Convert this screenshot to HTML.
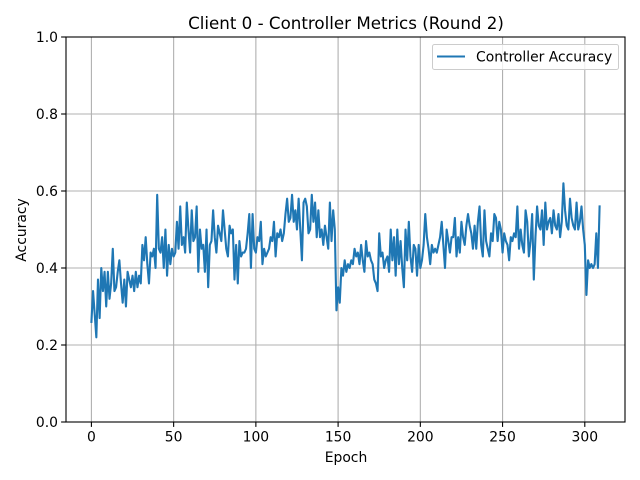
<!DOCTYPE html>
<html><head><meta charset="utf-8"><style>
body{margin:0;background:#fff;}
svg{display:block;font-family:"DejaVu Sans","Liberation Sans",sans-serif;}
</style></head><body>
<svg id="chart" width="640" height="480">
<rect width="640" height="480" fill="#fff"/>
<g id="grid"></g>
<g id="axes"></g>
<text x="346" y="29" font-size="16.7" text-anchor="middle">Client 0 - Controller Metrics (Round 2)</text>
<text x="346" y="462" font-size="13.9" text-anchor="middle">Epoch</text>
<text transform="translate(26,230) rotate(-90)" font-size="13.9" text-anchor="middle">Accuracy</text>
<g>
<rect x="432.5" y="44.5" width="186" height="25" rx="2" fill="#fff" fill-opacity="0.8" stroke="#ccc"/>
<line x1="437" y1="56.5" x2="465" y2="56.5" stroke="#1f77b4" stroke-width="2.1"/>
<text x="476" y="61.5" font-size="13.9">Controller Accuracy</text>
</g>
</svg>
<script>
const yTicks=[0,0.2,0.4,0.6,0.8,1.0];
const yTickLabels=["0.0","0.2","0.4","0.6","0.8","1.0"];
const xTicks=[0,50,100,150,200,250,300];
const xTickLabels=["0","50","100","150","200","250","300"];
const accuracy=[
0.26,0.34,0.28,0.22,0.37,0.27,0.40,0.34,0.39,0.30,
0.39,0.32,0.36,0.45,0.34,0.35,0.39,0.42,0.36,0.31,
0.37,0.30,0.39,0.37,0.35,0.38,0.34,0.39,0.35,0.38,
0.36,0.46,0.42,0.48,0.41,0.36,0.44,0.43,0.45,0.40,
0.59,0.45,0.44,0.48,0.40,0.50,0.38,0.46,0.41,0.45,
0.43,0.44,0.52,0.45,0.56,0.46,0.48,0.44,0.57,0.50,
0.44,0.55,0.47,0.48,0.56,0.39,0.50,0.45,0.46,0.39,
0.50,0.35,0.46,0.47,0.55,0.48,0.44,0.51,0.49,0.47,
0.55,0.50,0.45,0.43,0.51,0.49,0.50,0.37,0.46,0.36,
0.47,0.43,0.44,0.44,0.45,0.49,0.54,0.40,0.54,0.45,
0.44,0.48,0.47,0.52,0.41,0.45,0.43,0.44,0.45,0.48,
0.47,0.52,0.43,0.49,0.48,0.50,0.47,0.49,0.54,0.58,
0.52,0.53,0.59,0.52,0.55,0.50,0.58,0.50,0.42,0.57,
0.58,0.56,0.49,0.50,0.59,0.52,0.57,0.48,0.55,0.48,
0.50,0.46,0.51,0.48,0.45,0.57,0.47,0.55,0.50,0.29,
0.35,0.31,0.40,0.38,0.42,0.39,0.41,0.40,0.42,0.41,
0.45,0.43,0.44,0.41,0.46,0.42,0.39,0.47,0.43,0.44,
0.42,0.41,0.37,0.36,0.34,0.49,0.43,0.44,0.40,0.42,
0.43,0.39,0.50,0.42,0.48,0.38,0.50,0.41,0.47,0.40,
0.35,0.50,0.42,0.52,0.43,0.39,0.46,0.45,0.38,0.46,
0.40,0.42,0.46,0.54,0.48,0.45,0.41,0.46,0.44,0.45,
0.44,0.46,0.48,0.52,0.46,0.40,0.50,0.47,0.44,0.48,
0.48,0.53,0.43,0.48,0.44,0.52,0.48,0.46,0.51,0.54,
0.51,0.49,0.45,0.51,0.45,0.52,0.56,0.46,0.43,0.55,
0.47,0.45,0.43,0.49,0.47,0.54,0.53,0.47,0.52,0.50,
0.44,0.49,0.47,0.46,0.42,0.48,0.47,0.49,0.48,0.56,
0.45,0.50,0.46,0.44,0.55,0.52,0.43,0.47,0.54,0.37,
0.48,0.56,0.51,0.50,0.55,0.46,0.57,0.50,0.52,0.53,
0.49,0.55,0.51,0.50,0.54,0.48,0.52,0.62,0.55,0.51,
0.50,0.58,0.53,0.51,0.50,0.57,0.50,0.52,0.56,0.50,
0.46,0.33,0.42,0.40,0.41,0.40,0.41,0.49,0.40,0.56];
const NS="http://www.w3.org/2000/svg";
const L=66,R=625,T=37,B=422;
const n=accuracy.length-1, m=n*0.05;
const xs=v=>L+(v+m)/(n+2*m)*(R-L);
const ys=v=>B-v*(B-T);
const svg=document.getElementById('chart'),grid=document.getElementById('grid'),axes=document.getElementById('axes');
function mk(tag,attrs,parent){const e=document.createElementNS(NS,tag);for(const k in attrs)e.setAttribute(k,attrs[k]);parent.appendChild(e);return e;}
xTicks.forEach((t,i)=>{const x=xs(t);
const g=mk('line',{x1:x,x2:x,y1:T,y2:B,stroke:'#b0b0b0','stroke-width':1.1},grid);


const tk=mk('line',{x1:x,x2:x,y1:B,y2:B+4.9,stroke:'#000','stroke-width':1.1},axes);


const tx=mk('text',{x:x,y:B+19.5,'font-size':13.9,'text-anchor':'middle'},axes);tx.textContent=xTickLabels[i];


});
yTicks.forEach((t,i)=>{const y=ys(t);
const g=mk('line',{x1:L,x2:R,y1:y,y2:y,stroke:'#b0b0b0','stroke-width':1.1},grid);


const tk=mk('line',{x1:L-4.9,x2:L,y1:y,y2:y,stroke:'#000','stroke-width':1.1},axes);


const tx=mk('text',{x:L-8,y:y+5,'font-size':13.9,'text-anchor':'end'},axes);tx.textContent=yTickLabels[i];


});
const d=accuracy.map((v,i)=>(i?'L':'M')+xs(i).toFixed(2)+','+ys(v).toFixed(2)).join('');
const line=mk('path',{d:d,fill:'none',stroke:'#1f77b4','stroke-width':2.1,'stroke-linejoin':'round','stroke-linecap':'square'},axes);


const fr=mk('rect',{x:L,y:T,width:R-L,height:B-T,fill:'none',stroke:'#000','stroke-width':1.1},axes);


</script>
</body></html>
